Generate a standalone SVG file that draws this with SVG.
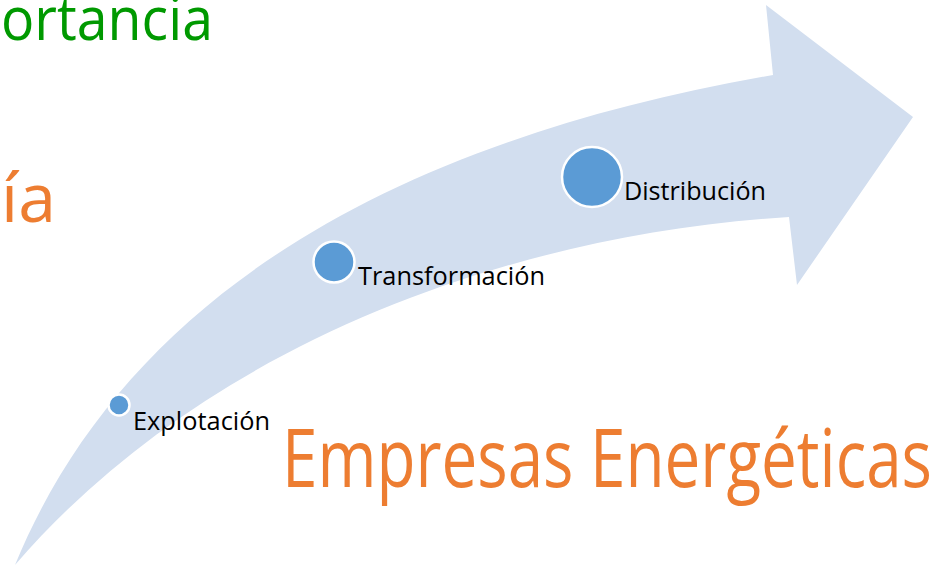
<svg xmlns="http://www.w3.org/2000/svg" width="943" height="569" viewBox="0 0 943 569">
<style>
.lbl{font-family:"Open Sans","Noto Sans",sans-serif;fill:#000;}
.big{font-family:"Open Sans","Noto Sans",sans-serif;}
.dot{fill:#5B9BD5;stroke:#fff;stroke-width:2.5;}
</style>
<rect width="943" height="569" fill="#fff"/>
<g id="arrow">
<path d="M15,565 C120,310 370,145 773,75 L766,5 L913,117 L797,285 L789,217 C500,235 200,350 15,565 Z" fill="#D2DEEF"/>
</g>
<g id="title-top">
<text class="big" x="1" y="40" font-size="60" fill="#009900" textLength="212" lengthAdjust="spacingAndGlyphs">ortancia</text>
</g>
<g id="title-mid">
<text class="big" x="1" y="222" font-size="68" fill="#ED7D31">ía</text>
</g>
<g id="title-bottom">
<text class="big" x="282" y="487" font-size="80" fill="#ED7D31" textLength="650" lengthAdjust="spacingAndGlyphs">Empresas Energéticas</text>
</g>
<g id="node-explotacion">
<circle class="dot" cx="119" cy="405" r="10.5"/>
<text class="lbl" x="133" y="430" font-size="25" textLength="137" lengthAdjust="spacingAndGlyphs">Explotación</text>
</g>
<g id="node-transformacion">
<circle class="dot" cx="334" cy="262" r="20.5"/>
<text class="lbl" x="358" y="285" font-size="26" textLength="187" lengthAdjust="spacingAndGlyphs">Transformación</text>
</g>
<g id="node-distribucion">
<circle class="dot" cx="592" cy="177" r="30"/>
<text class="lbl" x="624" y="200" font-size="26" textLength="142" lengthAdjust="spacingAndGlyphs">Distribución</text>
</g>
<g id="connectors"></g>
</svg>
